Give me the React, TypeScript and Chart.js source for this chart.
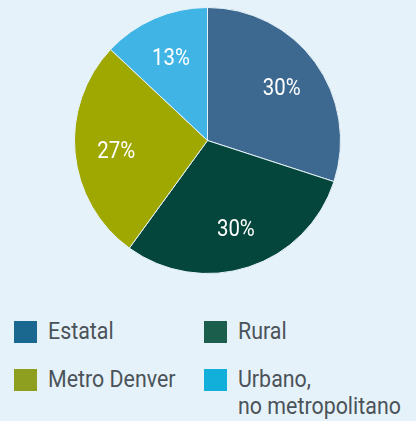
import React, { useEffect, useRef } from "react";
import { Chart, registerables } from "chart.js";

Chart.register(...registerables);

const categories = ["Estatal", "Rural", "Metro Denver", "Urbano,\nno metropolitano"];
const values = [30, 30, 27, 13];
const sliceColors = ["#3d6990", "#04463b", "#9fa800", "#40b4e5"];
const legendColors = ["#1a6890", "#1a5e4b", "#8e9e1e", "#12afda"];
const legendOrder = [0, 1, 2, 3];

const BG = "#e6f2f9";

const labelPlugin = {
  id: "sliceLabels",
  afterDatasetsDraw(chart: any) {
    const ctx = chart.ctx;
    const meta = chart.getDatasetMeta(0);
    const data = chart.data.datasets[0].data as number[];
    meta.data.forEach((arc: any, i: number) => {
      const p = arc.getProps(["x", "y", "startAngle", "endAngle", "outerRadius"], true);
      const a = (p.startAngle + p.endAngle) / 2;
      const r = p.outerRadius * 0.69;
      const x = p.x + Math.cos(a) * r;
      const y = p.y + Math.sin(a) * r;
      ctx.save();
      ctx.translate(x, y);
      ctx.scale(0.85, 1);
      ctx.fillStyle = "#ffffff";
      ctx.font = "24px Roboto";
      ctx.textAlign = "center";
      ctx.textBaseline = "alphabetic";
      ctx.fillText(data[i] + "%", 0, 8.5);
      ctx.restore();
    });
  },
};

function PieChart() {
  const ref = useRef<HTMLCanvasElement | null>(null);
  useEffect(() => {
    if (!ref.current) return;
    const chart = new Chart(ref.current, {
      type: "pie",
      data: {
        labels: categories,
        datasets: [
          {
            data: values,
            backgroundColor: sliceColors,
            borderColor: BG,
            borderWidth: 1,
          },
        ],
      },
      options: {
        animation: false,
        responsive: false,
        maintainAspectRatio: false,
        layout: { padding: 0 },
        plugins: {
          legend: { display: false },
          tooltip: { enabled: false },
        },
        events: [],
      },
      plugins: [labelPlugin],
    });
    return () => chart.destroy();
  }, []);
  return (
    <canvas
      ref={ref}
      width={267}
      height={267}
      style={{ position: "absolute", left: 74, top: 7, width: 267, height: 267 }}
    />
  );
}

export default function App() {
  const colX = [14, 204];
  const rowY = [317.6, 365.6];
  return (
    <div
      style={{
        position: "fixed",
        left: 0,
        top: 0,
        width: 416,
        height: 421,
        background: BG,
        overflow: "hidden",
        fontFamily: "Roboto, sans-serif",
      }}
    >
      <PieChart />
      {legendOrder.map((idx, k) => {
        const col = k % 2;
        const row = Math.floor(k / 2);
        return (
          <div
            key={idx}
            style={{ position: "absolute", left: colX[col], top: rowY[row], width: 200, height: 60 }}
          >
            <div
              style={{
                position: "absolute",
                left: 0,
                top: 3.5,
                width: 23,
                height: 22,
                background: legendColors[idx],
              }}
            />
            <div
              style={{
                position: "absolute",
                left: 34,
                top: 0,
                fontSize: 23,
                lineHeight: "27.7px",
                color: "#4b535a",
                whiteSpace: "pre",
                transform: "scaleX(0.93)",
                transformOrigin: "left top",
              }}
            >
              {categories[idx]}
            </div>
          </div>
        );
      })}
    </div>
  );
}
